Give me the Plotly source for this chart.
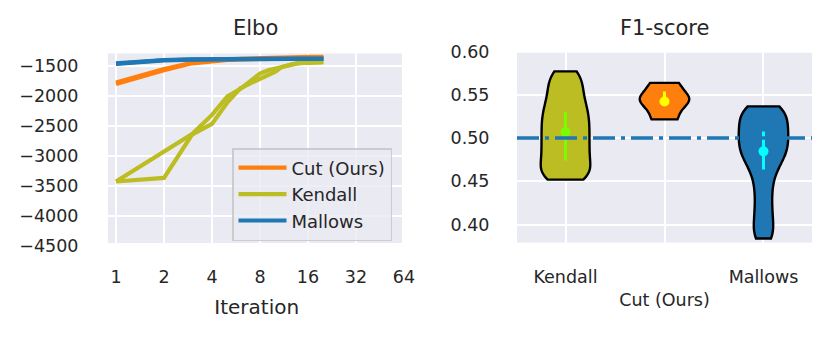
import math

import plotly.graph_objects as go
from plotly.subplots import make_subplots

FONT = "DejaVu Sans"
BG = "#eaeaf2"
TXT = "#262626"
COLORS = {"Cut (Ours)": "#ff7f0e", "Kendall": "#bcbd22", "Mallows": "#1f77b4"}

# Elbo per iteration, two runs per method ----------------------------------
iterations = list(range(1, 21))
elbo_cut_a = [-1805, -1575, -1460, -1425, -1405, -1395, -1390, -1387, -1385, -1383,
              -1382, -1381, -1380, -1380, -1379, -1378, -1378, -1377, -1377, -1376]
elbo_cut_b = [-1780, -1555, -1450, -1415, -1395, -1385, -1378, -1372, -1368, -1365,
              -1362, -1360, -1358, -1357, -1356, -1355, -1354, -1353, -1352, -1352]
elbo_kendall_a = [-3430, -3370, -2650, -2470, -2110, -1880, -1790, -1720, -1670, -1600,
                  -1520, -1485, -1468, -1458, -1452, -1448, -1445, -1443, -1441, -1440]
elbo_kendall_b = [-3430, -2920, -2640, -2320, -2010, -1890, -1760, -1630, -1575, -1545,
                  -1520, -1485, -1468, -1458, -1452, -1448, -1445, -1443, -1441, -1440]
elbo_mallows_a = [-1470, -1412, -1398, -1392, -1390, -1389, -1388, -1387, -1387, -1386,
                  -1386, -1386, -1385, -1385, -1385, -1385, -1384, -1384, -1384, -1384]
elbo_mallows_b = [-1462, -1405, -1392, -1388, -1386, -1385, -1384, -1384, -1383, -1383,
                  -1383, -1382, -1382, -1382, -1382, -1381, -1381, -1381, -1381, -1381]

elbo_xticks = [1, 2, 4, 8, 16, 32, 64]
elbo_yticks = [-4500, -4000, -3500, -3000, -2500, -2000, -1500]

# F1-score samples per method ----------------------------------------------
f1_categories = ["Kendall", "Cut (Ours)", "Mallows"]
f1_ticktext = ["Kendall", "<br>Cut (Ours)", "Mallows"]
f1_kendall = [0.452, 0.455, 0.457, 0.462, 0.467, 0.472, 0.477, 0.482, 0.487, 0.492,
              0.497, 0.502, 0.507, 0.512, 0.517, 0.522, 0.527, 0.532, 0.5375, 0.5435,
              0.550, 0.557, 0.564, 0.571, 0.577]
f1_cut = [0.5215, 0.543, 0.545, 0.5637]
f1_mallows = [0.384, 0.395, 0.408, 0.422, 0.437, 0.451, 0.4625, 0.471, 0.477, 0.4825,
              0.4875, 0.4925, 0.4975, 0.5025, 0.5075, 0.5125, 0.5175, 0.523, 0.5285,
              0.5335, 0.5366]
f1_bandwidth = [0.012, 0.01, 0.012]
f1_mean = [0.507, 0.5422, 0.4846]
f1_err_plus = [0.023, 0.0115, 0.023]
f1_err_minus = [0.033, 0.004, 0.021]
f1_mean_colors = ["#7cfc00", "#ffff00", "#00ffff"]
f1_baseline = 0.5
f1_yticks = [0.40, 0.45, 0.50, 0.55, 0.60]

elbo_runs = [
    ("Cut (Ours)", elbo_cut_a), ("Cut (Ours)", elbo_cut_b),
    ("Kendall", elbo_kendall_a), ("Kendall", elbo_kendall_b),
    ("Mallows", elbo_mallows_a), ("Mallows", elbo_mallows_b),
]
f1_samples = [f1_kendall, f1_cut, f1_mallows]

W, H, OFF = 832, 338, 8  # page body margin shifts the div by 8px


def px_x(x):
    return (x - OFF) / W


def px_y(y):
    return 1 - (y - OFF) / H


fig = make_subplots(rows=1, cols=2)

seen = set()
for name, run in elbo_runs:
    fig.add_trace(go.Scatter(x=iterations, y=run, mode="lines", name=name,
                             line=dict(color=COLORS[name], width=4.2),
                             showlegend=name not in seen),
                  row=1, col=1)
    seen.add(name)

for cat, samples, bw in zip(f1_categories, f1_samples, f1_bandwidth):
    fig.add_trace(go.Violin(x=[cat] * len(samples), y=samples, width=0.5,
                            bandwidth=bw, spanmode="hard", scalemode="width",
                            fillcolor=COLORS[cat], line=dict(color="black", width=2.4),
                            points=False, box_visible=False, meanline_visible=False,
                            showlegend=False, hoverinfo="skip"),
                  row=1, col=2)

# mean +/- spread, one trace per category so each bar gets its own colour
for cat, m, ep, em, c in zip(f1_categories, f1_mean, f1_err_plus, f1_err_minus,
                             f1_mean_colors):
    fig.add_trace(go.Scatter(x=[cat], y=[m], mode="markers",
                             marker=dict(color=c, size=10),
                             error_y=dict(type="data", array=[ep], arrayminus=[em],
                                          width=0, thickness=3, color=c),
                             showlegend=False, hoverinfo="skip"),
                  row=1, col=2)

fig.add_hline(y=f1_baseline, row=1, col=2,
              line=dict(color="#1f77b4", width=3.5, dash="22px,6px,4px,6px"))

# grey axes backgrounds (tick labels sit slightly outside the data area)
lx0, lx1 = -0.1667, 6.03
fig.add_shape(type="rect", xref="x domain", yref="y", x0=0,
              x1=(5.958 - lx0) / (lx1 - lx0), y0=-4455, y1=-1293,
              fillcolor=BG, line_width=0, layer="below")
fig.add_shape(type="rect", xref="x2 domain", yref="y2", x0=0, x1=1,
              y0=0.379, y1=0.5985, fillcolor=BG, line_width=0, layer="below")

tick_font = dict(family=FONT, size=17.5, color=TXT)
hidden_ticks = dict(ticks="outside", tickcolor="rgba(0,0,0,0)", showline=False,
                    zeroline=False, showgrid=True, gridcolor="white", gridwidth=2,
                    automargin=False)

fig.update_xaxes(type="log", range=[lx0 * math.log10(2), lx1 * math.log10(2)],
                 domain=[px_x(108), px_x(405.4)], tickvals=elbo_xticks,
                 ticktext=[str(v) for v in elbo_xticks], ticklen=13,
                 tickfont=tick_font,
                 title=dict(text="Iteration", font=dict(family=FONT, size=20, color=TXT),
                            standoff=14),
                 **hidden_ticks, row=1, col=1)
fig.update_yaxes(range=[-4530, -1293], domain=[px_y(247.5), px_y(53.3)],
                 tickvals=elbo_yticks,
                 ticktext=[f"\u2212{abs(v)}" for v in elbo_yticks], ticklen=25,
                 tickfont=tick_font, **hidden_ticks, row=1, col=1)
fig.update_xaxes(type="category", range=[-0.49, 2.49], domain=[px_x(517), px_x(812)],
                 tickvals=f1_categories, ticktext=f1_ticktext, ticklen=18,
                 tickfont=tick_font, **hidden_ticks, row=1, col=2)
fig.update_yaxes(range=[0.379, 0.6005], domain=[px_y(242.8), px_y(51)],
                 tickvals=f1_yticks, ticktext=[f"{v:.2f}" for v in f1_yticks],
                 ticklen=23, tickfont=tick_font, **hidden_ticks, row=1, col=2)

for text, x in [("Elbo", 255), ("F1-score", 664)]:
    fig.add_annotation(text=text, x=px_x(x), y=px_y(28), xref="paper", yref="paper",
                       xanchor="center", yanchor="middle", showarrow=False,
                       font=dict(family=FONT, size=21, color=TXT))

fig.update_layout(
    width=W, height=H,
    margin=dict(l=0, r=0, t=0, b=0, pad=0, autoexpand=False),
    paper_bgcolor="white", plot_bgcolor="rgba(0,0,0,0)",
    font=dict(family=FONT, color=TXT), violinmode="overlay",
    legend=dict(x=px_x(232), y=px_y(148), xanchor="left", yanchor="top",
                bgcolor="rgba(234,234,242,0.8)", bordercolor="#cccccc",
                borderwidth=1.5, tracegroupgap=0, itemwidth=48,
                font=dict(family=FONT, size=18, color=TXT)),
)

fig.write_html("out.html")
